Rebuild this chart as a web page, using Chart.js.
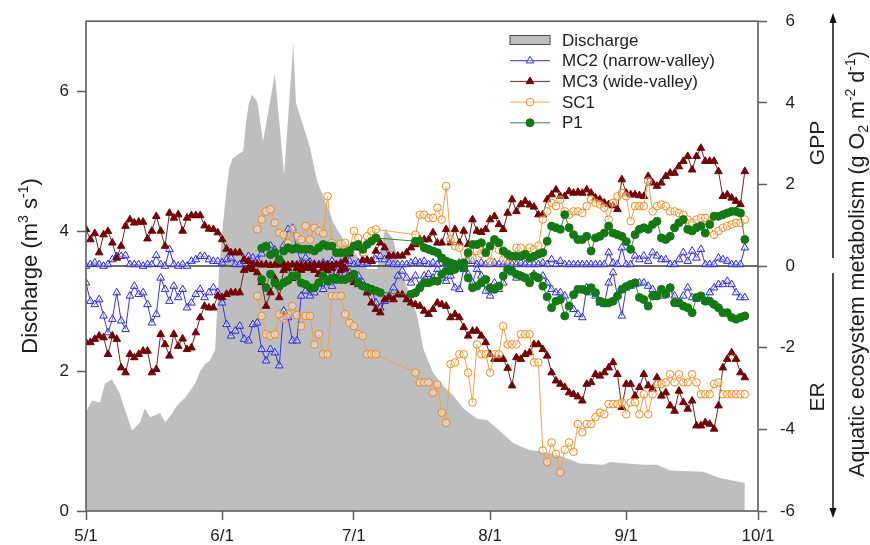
<!DOCTYPE html>
<html>
<head>
<meta charset="utf-8">
<script src="https://cdn.jsdelivr.net/npm/chart.js@4.4.1/dist/chart.umd.min.js"></script>
<style>
  html, body { margin: 0; padding: 0; background: #fff; }
  canvas { display: block; }
</style>
</head>
<body>
<canvas id="metabChart" width="870" height="545"></canvas>
<script>
// x axis = days after 5/1
const dateTickDays = [0, 31, 61, 92, 123, 153];
const dateTickLabels = ['5/1', '6/1', '7/1', '8/1', '9/1', '10/1'];

// discharge (m3 s-1), irregular samples
const dischargeDays = [0, 1.4, 3.2, 4.3, 5.9, 7.7, 8.9, 10.5, 12.3, 13.4, 14.6, 15.7, 16.9, 18, 19.1, 20.3, 21.4, 22.6, 23.7, 24.8,
  26, 27.1, 28.2, 29.4, 30.3, 31.2, 31.9, 32.6, 33.3, 34.6, 35.8, 36.4, 37.1, 37.8, 39, 40.3, 43, 45.1, 47.2, 47.8,
  51, 52.6, 54.9, 56.3, 58.5, 61.7, 64, 66.3, 68.1, 69.9, 71.5, 73.8, 75.4, 76.8, 79, 81.3, 83.6, 85.9, 89, 91.3,
  93.6, 97.3, 101, 105, 108.7, 112.5, 117.8, 119.4, 126.9, 130, 133, 140.5, 144.4, 150];
const dischargeVals = [1.42, 1.58, 1.55, 1.82, 1.88, 1.68, 1.44, 1.15, 1.27, 1.47, 1.34, 1.37, 1.40, 1.27, 1.35, 1.47, 1.55, 1.62, 1.72, 1.82,
  2.0, 2.1, 2.15, 2.3, 3.46, 4.12, 4.54, 4.89, 5.03, 5.10, 5.14, 5.54, 5.83, 5.95, 5.85, 5.28, 6.25, 4.81, 6.68, 5.83,
  5.2, 4.72, 4.36, 4.12, 3.89, 3.65, 3.46, 3.46, 4.03, 3.89, 3.46, 3.08, 2.79, 2.32, 1.98, 1.79, 1.65, 1.47, 1.32, 1.30,
  1.18, 0.97, 0.87, 0.84, 0.77, 0.68, 0.66, 0.70, 0.66, 0.66, 0.58, 0.56, 0.47, 0.40];

// daily metabolism (g O2 m-2 d-1); MC2/MC3 start at day 0
const mc2Gpp = [0, 0.04, 0.08, 0.04, 0, 0.04, 0.16, 0.24, 0.24, 0.26, 0.04, 0.04, 0.04, 0, 0.04, 0.04, 0.26, 0.04, 0, 0.41,
  0.04, 0, 0.04, 0, 0.12, 0.16, 0.24, 0.24, 0.16, 0.12, 0.12, 0.08, 0.16, 0.2, 0.04, 0.04, 0.12, 0.24, 0.2, 0.15,
  0.3, 0.45, 0.5, 0.4, 0.1, 0.5, 0.9, 0.93, 0.4, 0.1, 0.2, 0.1, 0.05,
  0.04, 0.08, 0.04, 0.12, 0.04, 0.08, 0.04, 0.12, 0.04, 0.08, 0.04, 0.08, 0.12, 0.16, 0.24, 0.16, 0.08, 0.04, 0.04, 0.04,
  0.04, 0.08, 0.12, 0.08, 0.12, 0.04, 0.08, 0.04, 0.16, 0.08, 0.04, 0.04, 0.08, 0.04, 0.12, 0.12, 0.04, 0.08, 0.04, 0.04,
  0.08, 0.04, 0.04, 0.08, 0.04, 0.04, 0.08, 0.04,
  0.04, 0.04, 0.04, 0.08, 0.04, 0.16, 0.04, 0.12, 0.04, 0.04, 0.04, 0.04, 0.04, 0.04, 0.04, 0.04, 0.04, 0.04, 0.33, 0.08,
  0.04, 0.45, 0.04, 0.04, 0.25, 0.16, 0.25, 0.12, 0.33, 0.25, 0.16, 0.16, 0.04, 0.04, 0.16, 0.33, 0.12, 0.37, 0.2, 0.41,
  0.04, 0.04, 0.04, 0.2, 0.16, 0.12, 0.04, 0.04, 0.04, 0.45];
const mc2Er = [-0.41, -0.86, -0.94, -0.82, -1.22, -1.63, -1.3, -0.65, -1.34, -1.55, -0.73, -0.49, -0.69, -0.65, -0.94, -1.39, -1.18, -0.29, -0.57, -0.86,
  -0.49, -0.77, -0.57, -1.02, -0.9, -0.69, -0.57, -0.77, -0.65, -0.53, -0.65, -0.9, -1.43, -1.71, -1.59, -1.47, -1.79, -1.83, -1.43, -1.39,
  -2.04, -2.32, -2.04, -2.12, -2.44, -1.1, -1.26, -1.83, -1.83, -0.73, -0.61, -0.73, -0.65,
  -0.41, -0.57, -0.24, -0.49, -0.16, -0.24, -0.08, -0.16, -0.24, -0.24, -0.41, -0.65, -0.57, -0.9, -1.02, -0.86, -0.73, -0.53, -0.24, -0.12,
  -0.29, -0.41, -0.24, -0.49, -0.24, -0.2, -0.29, -0.08, -0.29, -0.37, -0.24, -0.53, -0.57, -0.08, -0.2, -0.41, -0.08, -0.24, -0.61, -0.73,
  -0.41, -0.57, -0.41, -0.08, -0.16, -0.29, -0.24, -0.29,
  -0.29, -0.2, -0.29, -0.24, -0.41, -0.57, -0.65, -0.65, -0.73, -0.98, -1.06, -1.18, -1.26, -0.53, -0.65, -0.73, -0.9, -0.94, -0.41, -0.16,
  -0.73, -1.22, -0.53, -0.49, -0.45, -0.41, -0.41, -0.49, -0.57, -0.73, -0.73, -0.69, -0.53, -0.73, -0.9, -0.73, -0.53, -0.77, -0.81, -0.77,
  -0.86, -0.65, -0.53, -0.45, -0.45, -0.37, -0.45, -0.65, -0.77, -0.77];
const mc3Gpp = [0.9, 0.65, 0.8, 0.33, 0.77, 0.85, 0.57, 0.2, 0.49, 0.98, 1.14, 1.06, 1.08, 1.08, 0.67, 0.86, 1.22, 0.86, 0.49, 1.3,
  1.18, 1.26, 0.86, 1.18, 1.24, 1.24, 1.24, 0.99, 0.91, 0.9, 0.82, 0.65, 0.42, 0.33, 0.33, 0.33, 0.16, 0.12, 0.04,
  0.05, 0.03, 0.04, 0.02, 0.03, 0.03, 0.05, 0.02, 0.04, 0.03, 0.03, 0.02, 0.03, 0.03, 0.02, 0.03, 0.03, 0.02, 0.03, 0.05,
  0.15, 0.3, 0.49, 0.45, 0.15, 0.15, 0.12, 0.37, 0.57, 0.45, 0.25, 0.25, 0.25, 0.25, 0.33, 0.45, 0.53, 0.65, 0.65, 0.65,
  0.82, 0.57, 0.57, 0.9, 0.57, 0.9, 0.57, 0.86, 0.53, 1.14, 0.86, 0.83, 0.9, 1.14, 1.22, 1.02, 0.9, 1.3, 1.63, 1.34, 1.51, 1.59,
  1.5, 1.45, 1.26, 1.26, 1.63, 1.75, 1.87, 1.71, 1.71, 1.83, 1.79, 1.81, 1.79, 1.87, 1.79, 1.67, 1.63, 1.55, 1.51, 1.48,
  1.39, 2.12, 1.79, 1.75, 1.75, 1.73, 1.71, 2.2, 2.04, 1.96, 2.04, 2.2, 2.28, 2.28, 2.44, 2.57, 2.69, 2.36, 2.69, 2.89,
  2.57, 2.57, 2.57, 2.32, 1.71, 1.75, 1.67, 1.59, 1.51, 2.32];
const mc3Er = [-1.87, -1.87, -1.79, -1.71, -1.75, -2.16, -1.71, -1.79, -2.49, -2.61, -2.16, -2.24, -2.16, -2.08, -2.08, -2.61, -2.53, -1.67, -1.92, -2.2,
  -1.67, -1.96, -1.78, -2.04, -2.0, -1.63, -1.26, -0.98, -1.02, -1.02, -0.73, -0.77, -0.69, -0.65, -0.65, -0.65, -0.1, -0.05,
  -0.08, -0.16, -0.4, -0.98, -0.65, -0.3, -0.77, -0.1, -0.05, -0.3, -0.05, -0.1, -0.05, -0.05, -0.1, -0.2, -0.05, -0.1, -0.05, -0.3,
  -0.1, -0.05, -0.25, -0.4, -0.45,
  -0.5, -0.65, -0.9, -1.06, -1.14, -0.82, -0.77, -0.82, -0.7, -0.7, -0.82, -0.9, -0.94, -0.98, -1.1, -1.18, -1.06, -0.9, -0.94, -0.98,
  -1.26, -1.18, -1.26, -1.5, -1.71, -1.59, -1.59, -1.71, -1.87, -2.16, -2.28, -2.28, -2.28, -2.5, -2.93, -2.24, -2.28, -2.16,
  -2.12, -1.92, -1.92, -2.04, -2.2, -2.61, -2.81, -2.89, -2.97, -3.1, -3.14, -3.2, -3.3, -2.89, -2.85, -2.65, -2.69, -2.61, -2.49, -2.36,
  -2.65, -3.46, -2.89, -2.89, -3.18, -2.97, -2.65, -2.93, -3.01, -2.73, -3.18, -3.1, -3.42, -3.55, -3.06, -3.34, -3.5, -3.3, -3.91, -3.91,
  -3.83, -3.87, -3.99, -3.42, -2.49, -2.28, -2.12, -2.28, -2.61, -2.73];

// SC1 starts on day 39, P1 on day 40; null = no measurement
const sc1Start = 39;
const sc1Gpp = [0.9, 1.14, 1.34, 1.39, 1.06, 0.82, 0.77, 0.57, 0.9, 0.73, 0.65, 0.98, 0.65, 0.94, 0.86, 0.8, 1.71, 0.57, 0.45, 0.55,
  0.57, 0.4, 0.86, 0.69, 0.33, 0.73, 0.86, 0.9,
  null, null, null, null, null, null, null, null,
  0.77, 1.26, 1.26, 1.18, 1.18, 1.43, 1.14, 1.96, 0.65, 0.49, 0.45, 0.04, 0.29, 0.2, 0.37, 0.3, 0.45, 0.1, 0.61, 0.4,
  0.16, 0.3, 0.2, 0.45, 0.45, 0.24,
  0.45, 0.41, 0.5, 1.14, 1.34, 1.55, 1.47, 1.63, 1.34, 1.26, 1.34, 1.34, 1.3, 1.47, 1.63, 1.55, 1.51, 1.43, 1.14, 1.55,
  1.71, 1.79, 1.71, 1.1, 1.47, 1.47, 1.47, 2.08, 1.34, 1.47, 1.51, 1.47, 1.34, 1.34, 1.3, 1.26, 1.14, 1.06, 1.14, 1.18,
  1.18, 1.06, 0.77, 0.86, 0.94, 0.98, 1.02, 1.06, 1.06, 1.14];
const sc1Er = [-0.73, -1.22, -1.67, -1.71, -1.67, -1.18, -1.3, -1.18, -0.98, -1.2, -1.47, -1.22, -1.22, -1.92, -1.67, -2.16, -2.16, -0.73, -0.73, -0.73,
  -1.18, -1.39, -1.47, -1.67, -1.71, -2.16, -2.16, -2.16,
  null, null, null, null, null, null, null, null,
  -2.61, -2.85, -2.85, -2.85, -3.1, -2.9, -3.59, -3.84, -2.4, -2.36, -2.16, -2.16, -2.61, -3.34, -1.92, -2.16, -2.16, -2.61, -2.16, -2.16,
  -1.47, -1.92, -1.92, -1.92, -1.67, -1.67,
  -1.67, -2.36, -2.36, -4.52, -4.8, -4.32, -4.6, -5.05, -4.5, -4.32, -4.55, -3.87, -4.07, -3.87, -3.87, -3.7, -3.59, -3.63, -3.38, -3.38,
  -3.38, -3.34, -3.63, -3.34, -3.34, -3.63, -3.14, -3.63, -3.14, -2.89, -2.89, -2.85, -2.65, -2.85, -2.65, -2.85, -2.85, -2.65, -2.85, -3.14,
  -3.14, -3.14, -2.89, -2.85, -3.14, -3.14, -3.14, -3.14, -3.14, -3.14];
const p1Start = 40;
const p1Gpp = [0.44, 0.49, 0.28, 0.33, 0.16, 0.37, 0.45, 0.41, 0.45, 0.41, 0.41, 0.41, 0.37, 0.45, 0.53, 0.49, 0.49, 0.33, 0.33, 0.33,
  0.37, 0.49, 0.53, 0.41, 0.53, 0.61, 0.69,
  null, null, null, null, null, null, null, null,
  0.61, 0.61, 0.45, 0.41, 0.37, 0.33, 0.2, 0.12, 0.08, 0.04, 0.04, 0.08, 0.33, 0.53, 0.53, 0.57, 0.33, 0.49, 0.65, 0.57,
  0.37, 0.29, 0.24, 0.24, 0.24, 0.29,
  0.2, 0.24, 0.29, 0.33, 0.61, 0.98, 0.94, 0.9, 1.26, 0.94, 0.77, 0.65, 0.65, 0.73, 0.37, 0.69, 0.73, 0.81, 0.98, 0.81,
  0.77, 0.73, 0.6, 0.41, 0.77, 0.9, 0.94, 0.9, 1.02, 1.1, 0.69, 0.65, 0.73, 0.94, 1.06, 1.14, 0.9, 0.86, 0.94, 0.98,
  0.81, 1.02, 1.22, 1.22, 1.26, 1.3, 1.34, 1.34, 1.3, 0.65];
const p1Er = [-0.33, -0.53, -0.2, -0.41, -0.49, -0.41, -0.35, -0.24, -0.24, -0.41, -0.45, -0.53, -0.53, -0.41, -0.24, -0.37, -0.29, -0.33, -0.33, -0.33,
  -0.29, -0.2, -0.41, -0.49, -0.53, -0.57, -0.61, -0.65,
  null, null, null, null, null, null,
  -0.69, -0.65, -0.53, -0.41, -0.41, -0.37, -0.37, -0.2, -0.12, -0.12, -0.08, 0, -0.04, -0.29, -0.53, -0.49, -0.41, -0.33, -0.53, -0.57,
  -0.49, -0.24, -0.08, -0.12, -0.2, -0.24, -0.29,
  -0.41, -0.24, -0.29, -0.49, -0.75, -1.02, -0.86, -0.82, -1.22, -0.98, -0.7, -0.57, -0.57, -0.61, -0.53, -0.65, -0.86, -0.9, -0.9, -0.86,
  -0.73, -0.57, -0.5, -0.45, -0.41, -0.77, -0.82, -0.98, -0.73, -0.73, -0.57, -0.69, -0.53, -0.9, -0.9, -0.98, -1.02, -1.14, -0.77, -0.73,
  -0.86, -0.86, -0.94, -1.02, -1.14, -1.14, -1.26, -1.3, -1.26, -1.22];

const legendNames = ['Discharge', 'MC2 (narrow-valley)', 'MC3 (wide-valley)', 'SC1', 'P1'];

const FONT = "Arial, 'Liberation Sans', Helvetica, sans-serif";
const INK = '#1c1c1c';
const FRAME = '#5c5c5c';

function toPoints(values, startDay) {
    return values.map((v, i) => ({ x: startDay + i, y: v }));
}

const styles = {
    mc2: { line: '#3434e4', fill: 'rgba(255,255,255,0.35)', stroke: '#2a2ae0', shape: 'triangle', r: 4.4 },
    mc3: { line: '#6c2626', fill: '#730404', stroke: '#730404', shape: 'triangle', r: 4.4 },
    sc1: { line: '#f2a04a', fill: 'rgba(255,255,255,0.35)', stroke: '#f08a1c', shape: 'circle', r: 3.8 },
    p1: { line: '#3c7f3c', fill: '#137a13', stroke: '#137a13', shape: 'circle', r: 4.0 },
};

function series(label, values, startDay, st, order) {
    return {
        label,
        data: toPoints(values, startDay),
        yAxisID: 'y2',
        order,
        spanGaps: true,
        borderColor: st.line,
        borderWidth: 1,
        pointStyle: st.shape,
        pointRadius: st.r,
        pointBorderWidth: 1,
        pointBackgroundColor: st.fill,
        pointBorderColor: st.stroke,
        fill: false,
    };
}

const datasets = [
    {
        label: 'Discharge',
        data: dischargeDays.map((d, i) => ({ x: d, y: dischargeVals[i] })),
        yAxisID: 'y',
        order: 9,
        fill: 'origin',
        backgroundColor: '#bebebe',
        borderColor: 'rgba(0,0,0,0)',
        borderWidth: 0,
        pointRadius: 0,
    },
    series('MC2 (narrow-valley)', mc2Gpp, 0, styles.mc2, 4),
    series('MC2 (narrow-valley)', mc2Er, 0, styles.mc2, 4),
    series('MC3 (wide-valley)', mc3Gpp, 0, styles.mc3, 3),
    series('MC3 (wide-valley)', mc3Er, 0, styles.mc3, 3),
    series('SC1', sc1Gpp, sc1Start, styles.sc1, 2),
    series('SC1', sc1Er, sc1Start, styles.sc1, 2),
    series('P1', p1Gpp, p1Start, styles.p1, 1),
    series('P1', p1Er, p1Start, styles.p1, 1),
];

// zero line sits on top of the discharge area but under the series
const zeroLinePlugin = {
    id: 'zeroLine',
    afterDatasetDraw(chart, args) {
        if (args.index !== 0) return;
        const { ctx, chartArea } = chart;
        const y = chart.scales.y2.getPixelForValue(0);
        ctx.save();
        ctx.strokeStyle = '#3a3a3a';
        ctx.lineWidth = 1.5;
        ctx.beginPath();
        ctx.moveTo(chartArea.left, y);
        ctx.lineTo(chartArea.right, y);
        ctx.stroke();
        ctx.restore();
    }
};

function drawRotatedRich(ctx, parts, baseX, centerY, size) {
    ctx.save();
    ctx.translate(baseX, centerY);
    ctx.rotate(-Math.PI / 2);
    ctx.fillStyle = INK;
    ctx.textAlign = 'left';
    ctx.textBaseline = 'alphabetic';
    const fontFor = p => (p.s ? Math.round(size * 0.64) : size) + 'px ' + FONT;
    let total = 0;
    parts.forEach(p => { ctx.font = fontFor(p); total += ctx.measureText(p.t).width; });
    let u = -total / 2;
    parts.forEach(p => {
        ctx.font = fontFor(p);
        const dv = p.s === 'sup' ? -size * 0.42 : p.s === 'sub' ? size * 0.2 : 0;
        ctx.fillText(p.t, u, dv);
        u += ctx.measureText(p.t).width;
    });
    ctx.restore();
}

function drawArrow(ctx, x, yFrom, yTo) {
    const dir = yTo < yFrom ? -1 : 1;
    ctx.beginPath();
    ctx.moveTo(x, yFrom);
    ctx.lineTo(x, yTo - dir * 8);
    ctx.stroke();
    ctx.beginPath();
    ctx.moveTo(x, yTo);
    ctx.lineTo(x - 3.5, yTo - dir * 10);
    ctx.lineTo(x + 3.5, yTo - dir * 10);
    ctx.closePath();
    ctx.fill();
}

const decorPlugin = {
    id: 'decor',
    afterDraw(chart) {
        const { ctx, chartArea } = chart;
        ctx.save();

        // plot frame
        ctx.strokeStyle = FRAME;
        ctx.lineWidth = 1.6;
        ctx.strokeRect(chartArea.left, chartArea.top, chartArea.right - chartArea.left, chartArea.bottom - chartArea.top);

        // legend
        const lx = 510, lw = 40, tx = 562, top = 40, gap = 20.7;
        ctx.font = '17px ' + FONT;
        ctx.textBaseline = 'middle';
        ctx.textAlign = 'left';
        legendNames.forEach((name, i) => {
            const ds = chart.data.datasets.find(d => d.label === name);
            const y = top + i * gap;
            if (ds.fill === 'origin') {
                ctx.fillStyle = ds.backgroundColor;
                ctx.fillRect(lx, y - 4.5, lw, 9);
                ctx.strokeStyle = '#4a4a4a';
                ctx.lineWidth = 1;
                ctx.strokeRect(lx, y - 4.5, lw, 9);
            } else {
                ctx.strokeStyle = ds.borderColor;
                ctx.lineWidth = 1;
                ctx.beginPath();
                ctx.moveTo(lx, y);
                ctx.lineTo(lx + lw, y);
                ctx.stroke();
                ctx.fillStyle = ds.pointBackgroundColor;
                ctx.strokeStyle = ds.pointBorderColor;
                Chart.helpers.drawPoint(ctx, { pointStyle: ds.pointStyle, radius: ds.pointRadius, rotation: 0, borderWidth: 1 }, lx + lw / 2, y);
            }
            ctx.fillStyle = INK;
            ctx.fillText(name, tx, y + 1);
        });

        // axis titles
        drawRotatedRich(ctx, [
            { t: 'Discharge (m' }, { t: '3', s: 'sup' }, { t: ' s' }, { t: '-1', s: 'sup' }, { t: ')' }
        ], 37, 266, 22);
        drawRotatedRich(ctx, [
            { t: 'Aquatic ecosystem metabolism (g O' }, { t: '2', s: 'sub' }, { t: ' m' }, { t: '-2', s: 'sup' },
            { t: ' d' }, { t: '-1', s: 'sup' }, { t: ')' }
        ], 864, 264, 21.5);
        drawRotatedRich(ctx, [{ t: 'GPP' }], 824, 143, 21);
        drawRotatedRich(ctx, [{ t: 'ER' }], 824, 397, 21);

        // GPP / ER arrows
        ctx.strokeStyle = '#111';
        ctx.fillStyle = '#111';
        ctx.lineWidth = 1.5;
        drawArrow(ctx, 833, 258, 13);
        drawArrow(ctx, 833, 273, 518);

        ctx.restore();
    }
};

const tickFont = { family: FONT, size: 17 };

new Chart(document.getElementById('metabChart'), {
    type: 'line',
    data: { datasets },
    options: {
        responsive: false,
        animation: false,
        // right padding leaves room for the GPP/ER arrows and the right title
        layout: { padding: { top: 20, left: 0, right: 75, bottom: 0 } },
        plugins: { legend: { display: false }, tooltip: { enabled: false } },
        elements: { line: { tension: 0 } },
        scales: {
            x: {
                type: 'linear',
                min: 0,
                max: 153,
                afterBuildTicks: s => { s.ticks = dateTickDays.map(v => ({ value: v })); },
                afterFit: s => { s.height = 34; },
                ticks: {
                    autoSkip: false,
                    maxRotation: 0,
                    padding: 6,
                    color: INK,
                    font: tickFont,
                    callback: v => dateTickLabels[dateTickDays.indexOf(v)],
                },
                grid: { drawOnChartArea: false, drawTicks: true, tickLength: 9, tickColor: FRAME, tickWidth: 1.5 },
                border: { display: false },
            },
            y: {
                type: 'linear',
                position: 'left',
                min: 0,
                max: 7,
                afterBuildTicks: s => { s.ticks = [0, 2, 4, 6].map(v => ({ value: v })); },
                afterFit: s => { s.width = 86; },
                ticks: { padding: 8, color: INK, font: tickFont },
                grid: { drawOnChartArea: false, drawTicks: true, tickLength: 9, tickColor: FRAME, tickWidth: 1.5 },
                border: { display: false },
            },
            y2: {
                type: 'linear',
                position: 'right',
                min: -6,
                max: 6,
                afterFit: s => { s.width = 37; },
                ticks: { stepSize: 2, padding: 11, crossAlign: 'far', color: INK, font: tickFont },
                grid: { drawOnChartArea: false, drawTicks: true, tickLength: 9, tickColor: FRAME, tickWidth: 1.5 },
                border: { display: false },
            },
        },
    },
    plugins: [zeroLinePlugin, decorPlugin],
});
</script>
</body>
</html>
